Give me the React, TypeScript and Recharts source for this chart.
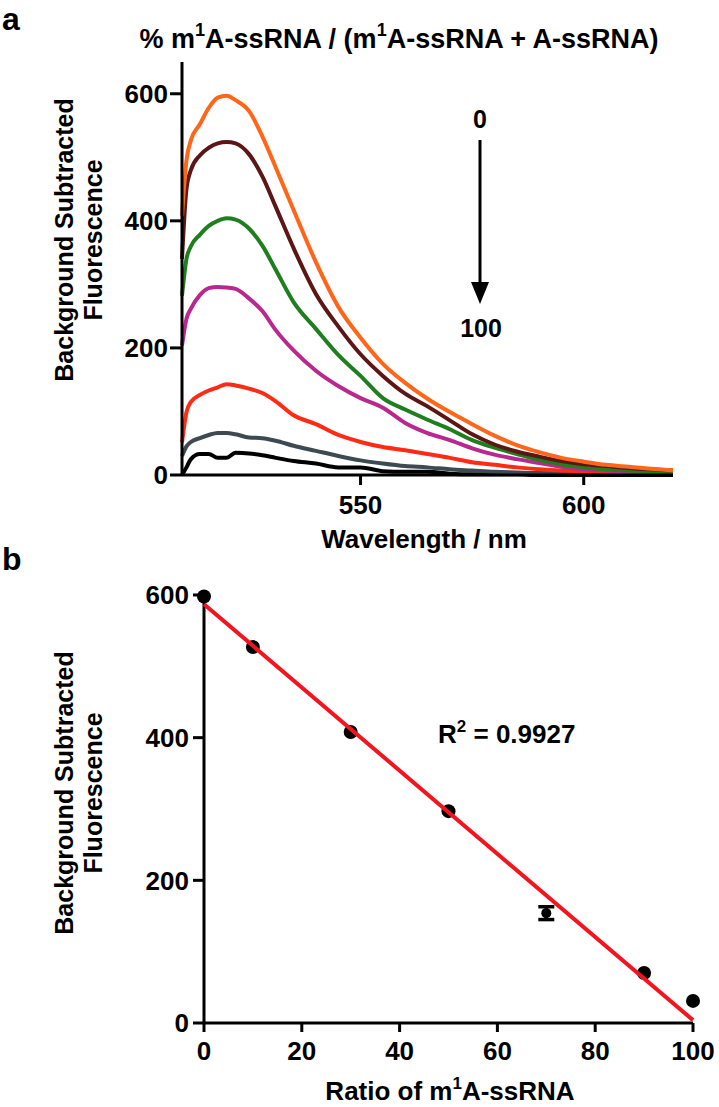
import React from 'react';
import { LineChart, Line, XAxis, YAxis, ScatterChart, Scatter, ErrorBar } from 'recharts';

// ---------- Panel a: emission spectra ----------
const wavelengths = [510, 511, 512, 514, 516, 518, 520, 522, 525, 528, 531, 535, 540, 545, 550, 555, 560, 565, 570, 575, 580, 585, 590, 595, 600, 605, 610, 615, 620];
const pct0 = [408, 495, 527, 552, 578, 594, 597, 590, 573, 533, 484, 417, 335, 265, 216, 175, 145, 120, 99, 80, 62, 47, 36, 27, 21, 16, 13, 10, 7];
const pct10 = [340, 450, 480, 503, 515, 522, 524, 522, 505, 470, 422, 357, 285, 234, 190, 156, 128, 108, 86, 64, 48, 37, 29, 22, 17, 14, 11, 9, 7];
const pct30 = [282, 340, 360, 378, 392, 400, 404, 402, 388, 361, 323, 272, 230, 189, 156, 121, 103, 87, 72, 55, 43, 33, 24, 17, 12, 9, 7, 6, 5];
const pct50 = [204, 246, 262, 283, 294, 296, 295, 293, 278, 258, 228, 196, 164, 140, 121, 106, 82, 66, 55, 42, 32, 25, 19, 13, 9, 7, 5, 4, 4];
const pct70 = [51, 99, 115, 126, 133, 138, 143, 141, 136, 129, 116, 94, 80, 63, 52, 44, 39, 33, 27, 20, 16, 12, 9, 7, 6, 5, 4, 4, 4];
const pct90 = [30, 45, 52, 58, 63, 66, 66, 64, 59, 58, 54, 46, 38, 30, 23, 18, 14, 12, 9, 7, 5, 4, 3, 3, 2, 2, 2, 2, 2];
const pct100 = [0, 12, 25, 33, 33, 27, 27, 35, 34, 31, 27, 22, 18, 12, 12, 6, 5, 5, 2, 1, 1, 1, 0, 0, 0, 0, 0, 0, 0];

const spectrumTicksX = [550, 600];
const spectrumTicksY = [0, 200, 400, 600];

const seriesKeys = ['p100', 'p90', 'p70', 'p50', 'p30', 'p10', 'p0'];
const seriesColors: Record<string, string> = {
  p0: '#FF6619',
  p10: '#5C1616',
  p30: '#1F7F1F',
  p50: '#B8288F',
  p70: '#FF2B14',
  p90: '#3D4A52',
  p100: '#000000',
};

const spectra = wavelengths.map((w, i) => ({
  w,
  p0: pct0[i],
  p10: pct10[i],
  p30: pct30[i],
  p50: pct50[i],
  p70: pct70[i],
  p90: pct90[i],
  p100: pct100[i],
}));

// ---------- Panel b: calibration ----------
const ratios = [0, 10, 30, 50, 70, 90, 100];
const fluorescence = [598, 527, 408, 297, 154, 70, 31];
const errors = [0, 0, 0, 0, 9, 0, 0];
const fitX = [0, 100];
const fitY = [587, 4];
const ratioTicks = [0, 20, 40, 60, 80, 100];
const fluoTicks = [0, 200, 400, 600];

const points = ratios.map((x, i) => ({ x, y: fluorescence[i], err: errors[i] }));
const fit = fitX.map((x, i) => ({ x, y: fitY[i] }));

const FONT = '"Liberation Sans", Arial, sans-serif';
const tickStyle = { fill: '#000', fontSize: 26, fontWeight: 700, fontFamily: FONT };
const axisLine = { stroke: '#000', strokeWidth: 3 };
const tickLine = { stroke: '#000', strokeWidth: 3 };

const Dot = (props: any) => {
  const { cx, cy, payload } = props;
  if (cx == null || cy == null) return <g />;
  const r = payload && payload.err > 0 ? 5 : 7;
  return <circle cx={cx} cy={cy} r={r} fill="#000" />;
};
const NoDot = () => <g />;

const Sup = ({ children, size = 17, rise = 11 }: { children: React.ReactNode; size?: number; rise?: number }) => (
  <tspan dy={-rise} fontSize={size}>{children}</tspan>
);

export default function App() {
  const txt = { fontFamily: FONT, fontWeight: 700, fill: '#000' } as const;
  return (
    <div style={{ position: 'absolute', left: 0, top: 0, width: 719, height: 1107, background: '#fff' }}>
      <div style={{ position: 'absolute', left: 0, top: 0 }}>
        <LineChart width={719} height={570} data={spectra} margin={{ top: 62, right: 46, bottom: 55, left: 122 }}>
          <XAxis
            dataKey="w"
            type="number"
            domain={[510, 620]}
            ticks={spectrumTicksX}
            axisLine={axisLine}
            tickLine={tickLine}
            tickSize={10}
            tickMargin={11}
            tick={tickStyle}
            height={40}
          />
          <YAxis
            type="number"
            domain={[0, 650]}
            ticks={spectrumTicksY}
            axisLine={axisLine}
            tickLine={tickLine}
            tickSize={12}
            tickMargin={2}
            tick={tickStyle}
            width={60}
          />
          {seriesKeys.map((k) => (
            <Line
              key={k}
              dataKey={k}
              type="monotone"
              stroke={seriesColors[k]}
              strokeWidth={4}
              dot={false}
              isAnimationActive={false}
            />
          ))}
        </LineChart>
      </div>
      <div style={{ position: 'absolute', left: 0, top: 570 }}>
        <ScatterChart width={719} height={537} margin={{ top: 25, right: 26, bottom: 44, left: 144 }}>
          <XAxis
            dataKey="x"
            type="number"
            domain={[0, 100]}
            ticks={ratioTicks}
            axisLine={axisLine}
            tickLine={tickLine}
            tickSize={9}
            tickMargin={10}
            tick={tickStyle}
            height={40}
          />
          <YAxis
            dataKey="y"
            type="number"
            domain={[0, 600]}
            ticks={fluoTicks}
            axisLine={axisLine}
            tickLine={tickLine}
            tickSize={11}
            tickMargin={4}
            tick={tickStyle}
            width={60}
          />
          <Scatter data={points} shape={Dot} isAnimationActive={false}>
            <ErrorBar dataKey="err" direction="y" width={8} strokeWidth={3.5} stroke="#000" />
          </Scatter>
          <Scatter
            data={fit}
            shape={NoDot}
            line={{ stroke: '#F2141E', strokeWidth: 4 }}
            lineType="joint"
            isAnimationActive={false}
          />
        </ScatterChart>
      </div>
      <svg width={719} height={1107} style={{ position: 'absolute', left: 0, top: 0, pointerEvents: 'none' }}>
        <text x={2} y={30} fontSize={32} {...txt}>a</text>
        <text x={399} y={48} fontSize={27} textAnchor="middle" {...txt}>
          % m<Sup size={18} rise={12}>1</Sup><tspan dy={12}>A-ssRNA / (m</tspan><Sup size={18} rise={12}>1</Sup><tspan dy={12}>A-ssRNA + A-ssRNA)</tspan>
        </text>
        <text x={480} y={128} fontSize={25} textAnchor="middle" {...txt}>0</text>
        <line x1={480} y1={140} x2={480} y2={286} stroke="#000" strokeWidth={3} />
        <polygon points="471,282 489,282 480,304" fill="#000" />
        <text x={481} y={337} fontSize={25} textAnchor="middle" {...txt}>100</text>
        <g transform="translate(64,240) rotate(-90)">
          <text x={0} y={0} fontSize={25} textAnchor="middle" dominantBaseline="central" {...txt}>Background Subtracted</text>
        </g>
        <g transform="translate(93,240) rotate(-90)">
          <text x={0} y={0} fontSize={25} textAnchor="middle" dominantBaseline="central" {...txt}>Fluorescence</text>
        </g>
        <text x={424} y={548} fontSize={26} textAnchor="middle" {...txt}>Wavelength / nm</text>
        <text x={2} y={570} fontSize={32} {...txt}>b</text>
        <g transform="translate(64,793) rotate(-90)">
          <text x={0} y={0} fontSize={25} textAnchor="middle" dominantBaseline="central" {...txt}>Background Subtracted</text>
        </g>
        <g transform="translate(93,793) rotate(-90)">
          <text x={0} y={0} fontSize={25} textAnchor="middle" dominantBaseline="central" {...txt}>Fluorescence</text>
        </g>
        <text x={438} y={743} fontSize={26} {...txt}>
          R<Sup>2</Sup><tspan dy={11}> = 0.9927</tspan>
        </text>
        <text x={450} y={1100} fontSize={26} textAnchor="middle" {...txt}>
          Ratio of m<Sup>1</Sup><tspan dy={11}>A-ssRNA</tspan>
        </text>
      </svg>
    </div>
  );
}
